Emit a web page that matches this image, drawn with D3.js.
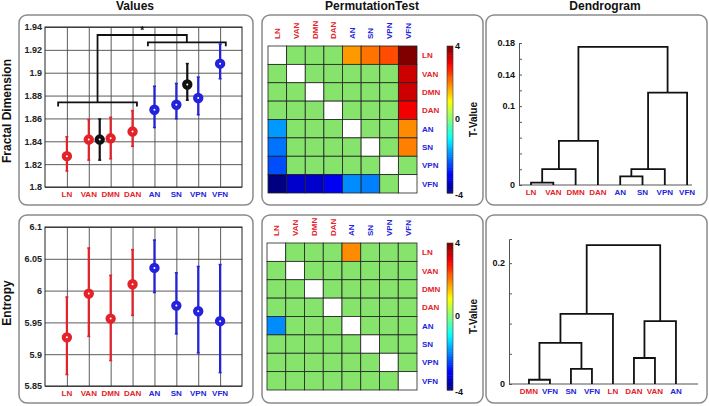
<!DOCTYPE html>
<html><head><meta charset="utf-8">
<script src="https://cdn.jsdelivr.net/npm/d3@7"></script>
<style>
body{margin:0;background:#fff;}
text{font-family:"Liberation Sans",Arial,sans-serif;font-weight:bold;}
</style>
</head><body><svg id="c" width="709" height="406"></svg>
<script>
// ---------------- DATA ----------------
const networks = ["LN","VAN","DMN","DAN","AN","SN","VPN","VFN"];
const redNets = ["LN","VAN","DMN","DAN"];

const fdMean = [1.827,1.8415,1.8426,1.8485,1.8676,1.872,1.8779,1.9079];
const fdLow  = [1.814,1.8235,1.8247,1.8356,1.852,1.8597,1.8632,1.8947];
const fdHigh = [1.844,1.859,1.861,1.8668,1.8882,1.8906,1.8962,1.925];
const fdGroupPos  = [2.5, 6.5];
const fdGroupMean = [1.8415, 1.8897];
const fdGroupLow  = [1.8235, 1.876];
const fdGroupHigh = [1.8595, 1.908];
const fdTicks = [1.8,1.82,1.84,1.86,1.88,1.9,1.92,1.94];
const fdTickLabels = ["1.8","1.82","1.84","1.86","1.88","1.9","1.92","1.94"];
const sigBracketX = [[0.6,4.2],[4.7,8.26]];
const sigBracketY = [1.874,1.9266];
const sigTopY = 1.933;

const enMean = [5.9265,5.9953,5.956,6.010,6.0357,5.9764,5.9675,5.952];
const enLow  = [5.868,5.928,5.890,5.961,5.997,5.932,5.902,5.871];
const enHigh = [5.990,6.067,6.024,6.0645,6.0795,6.028,6.038,6.041];
const enTicks = [5.85,5.9,5.95,6,6.05,6.1];
const enTickLabels = ["5.85","5.9","5.95","6","6.05","6.1"];

const permFD = [
  [null, 0, 0, 0, 1.8, 2.1, 2.4, 4.0],
  [0, null, 0, 0, 0, 0, 0, 3.4],
  [0, 0, null, 0, 0, 0, 0, 3.4],
  [0, 0, 0, null, 0, 0, 0, 3.1],
  [-1.8, 0, 0, 0, null, 0, 0, 1.9],
  [-2.1, 0, 0, 0, 0, null, 0, 2.0],
  [-2.4, 0, 0, 0, 0, 0, null, 0],
  [-4.0, -3.4, -3.4, -3.1, -1.9, -2.0, 0, null]
];
const permEN = [
  [null, 0, 0, 0, 1.9, 0, 0, 0],
  [0, null, 0, 0, 0, 0, 0, 0],
  [0, 0, null, 0, 0, 0, 0, 0],
  [0, 0, 0, null, 0, 0, 0, 0],
  [-1.9, 0, 0, 0, null, 0, 0, 0],
  [0, 0, 0, 0, 0, null, 0, 0],
  [0, 0, 0, 0, 0, 0, null, 0],
  [0, 0, 0, 0, 0, 0, 0, null]
];
const cbTicks = [-4, 0, 4];

const dendTopLeaves = ["LN","VAN","DMN","DAN","AN","SN","VPN","VFN"];
const dendTopMerges = [[0,1,0.003],[8,2,0.020],[9,3,0.056],[4,5,0.011],[11,6,0.020],[12,7,0.117],[10,13,0.175]];
const dendTopTicks = [0,0.02,0.04,0.06,0.08,0.1,0.12,0.14,0.16,0.18];
const dendTopLabels = [0,0.1,0.14,0.18];

const dendBotLeaves = ["DMN","VFN","SN","VFN","LN","DAN","VAN","AN"];
const dendBotMerges = [[0,1,0.007],[2,3,0.025],[8,9,0.068],[10,4,0.116],[5,6,0.043],[12,7,0.104],[11,13,0.23]];
const dendBotTicks = [0,0.05,0.1,0.15,0.2];
const dendBotLabels = [0,0.2];

// ---------------- DRAW ----------------
const RED = "#e3222a", BLUE = "#2323dd";
const netColor = n => redNets.includes(n) ? RED : BLUE;
const svg = d3.select("#c");

// panels
const panels = [[19,15,253,205],[19,215,253,403],[262,15,483,205],[262,215,483,403],[486,15,707,205],[486,215,707,403]];
panels.forEach(p => svg.append("rect").attr("x",p[0]).attr("y",p[1]).attr("width",p[2]-p[0]).attr("height",p[3]-p[1])
  .attr("rx",8).attr("fill","none").attr("stroke","#8a8a8a").attr("stroke-width",1.5));

// titles
[["Values",135],["PermutationTest",372],["Dendrogram",605]].forEach(t =>
  svg.append("text").attr("x",t[1]).attr("y",10).attr("text-anchor","middle").attr("font-size",12).attr("fill","#111").text(t[0]));
svg.append("text").attr("transform","translate(11,111) rotate(-90)").attr("text-anchor","middle").attr("font-size",12).attr("fill","#111").text("Fractal Dimension");
svg.append("text").attr("transform","translate(11,303) rotate(-90)").attr("text-anchor","middle").attr("font-size",12).attr("fill","#111").text("Entropy");

function valuesPlot(y0, y1, domain, ticks, tickLabels, mean, low, high, extra) {
  const x = d3.scaleLinear().domain([0,9]).range([45,242]);
  const y = d3.scaleLinear().domain(domain).range([y1,y0]);
  const g = svg.append("g");
  const gx = g.append("g").attr("transform",`translate(0,${y1})`)
    .call(d3.axisBottom(x).tickValues(d3.range(1,9)).tickSize(-(y1-y0)).tickFormat(""));
  gx.select(".domain").remove();
  gx.selectAll("line").attr("stroke","#4a4a4a").attr("stroke-width",0.9);
  const gy = g.append("g").attr("transform",`translate(45,0)`)
    .call(d3.axisLeft(y).tickValues(ticks).tickSize(-(242-45)).tickFormat((d,i)=>tickLabels[i]).tickPadding(3));
  gy.select(".domain").remove();
  gy.selectAll("line").attr("stroke","#4a4a4a").attr("stroke-width",0.9);
  gy.selectAll("text").attr("font-size",9).attr("fill","#222").attr("font-family","Liberation Sans, Arial").attr("font-weight","bold");
  g.append("rect").attr("x",45).attr("y",y0).attr("width",197).attr("height",y1-y0).attr("fill","none").attr("stroke","#222").attr("stroke-width",1);
  networks.forEach((n,i) => g.append("text").attr("x",x(i+1)).attr("y",y1+10).attr("text-anchor","middle")
    .attr("font-size",8).attr("fill",netColor(n)).text(n));
  function pt(px, m, lo, hi, col) {
    g.append("line").attr("x1",x(px)).attr("x2",x(px)).attr("y1",y(lo)).attr("y2",y(hi)).attr("stroke",col).attr("stroke-width",2.2);
    [lo,hi].forEach(v => g.append("line").attr("x1",x(px)-1.5).attr("x2",x(px)+1.5).attr("y1",y(v)).attr("y2",y(v)).attr("stroke",col).attr("stroke-width",1.5));
    g.append("circle").attr("cx",x(px)).attr("cy",y(m)).attr("r",3.1).attr("fill","#fff").attr("stroke",col).attr("stroke-width",4.2);
  }
  networks.forEach((n,i) => pt(i+1, mean[i], low[i], high[i], netColor(n)));
  if (extra) extra(g, x, y, pt);
}

valuesPlot(27, 187, [1.8,1.94], fdTicks, fdTickLabels, fdMean, fdLow, fdHigh, (g,x,y,pt) => {
  fdGroupPos.forEach((p,i) => pt(p, fdGroupMean[i], fdGroupLow[i], fdGroupHigh[i], "#111"));
  const mids = sigBracketX.map(b => (b[0]+b[1])/2);
  sigBracketX.forEach((b,i) => {
    g.append("path").attr("d", `M${x(b[0])},${y(sigBracketY[i])+4}V${y(sigBracketY[i])}H${x(b[1])}V${y(sigBracketY[i])+4}`)
      .attr("fill","none").attr("stroke","#111").attr("stroke-width",1.8);
  });
  g.append("path").attr("d", `M${x(mids[0])},${y(sigBracketY[0])}V${y(sigTopY)}H${x(mids[1])}V${y(sigBracketY[1])}`)
    .attr("fill","none").attr("stroke","#111").attr("stroke-width",1.8);
  g.append("text").attr("x",x((mids[0]+mids[1])/2)).attr("y",y(sigTopY)-1).attr("text-anchor","middle").attr("font-size",10).attr("fill","#111").text("*");
});
valuesPlot(227, 386, [5.85,6.1], enTicks, enTickLabels, enMean, enLow, enHigh, null);

function jet(v) {
  const t = (v + 4) / 8;
  const c = f => Math.round(255 * Math.max(0, Math.min(1, f)));
  return `rgb(${c(1.5-Math.abs(4*t-3))},${c(1.5-Math.abs(4*t-2))},${c(1.5-Math.abs(4*t-1))})`;
}

function heatmap(x0, x1, y0, y1, mat) {
  const xs = d3.scaleBand().domain(networks).range([x0,x1]);
  const ys = d3.scaleBand().domain(networks).range([y0,y1]);
  const g = svg.append("g");
  mat.forEach((row,i) => row.forEach((v,j) => {
    g.append("rect").attr("x",xs(networks[j])).attr("y",ys(networks[i])).attr("width",xs.bandwidth()).attr("height",ys.bandwidth())
      .attr("fill", v === null ? "#fff" : (v === 0 ? "#86e36b" : jet(v))).attr("stroke","#222").attr("stroke-width",0.8);
  }));
  networks.forEach(n => {
    g.append("text").attr("transform",`translate(${xs(n)+xs.bandwidth()/2+3},${y0-7}) rotate(-90)`).attr("text-anchor","start")
      .attr("font-size",8).attr("fill",netColor(n)).text(n);
    g.append("text").attr("x",x1+5).attr("y",ys(n)+ys.bandwidth()/2+3).attr("font-size",8).attr("fill",netColor(n)).text(n);
  });
  const cb = d3.scaleLinear().domain([-4,4]).range([y1,y0]);
  const steps = d3.range(-4, 4, 0.1);
  steps.forEach(s => g.append("rect").attr("x",447).attr("y",cb(s+0.1)).attr("width",6).attr("height",Math.abs(cb(s)-cb(s+0.1))+0.5).attr("fill",jet(s+0.05)));
  g.append("rect").attr("x",447).attr("y",y0).attr("width",6).attr("height",y1-y0).attr("fill","none").attr("stroke","#333").attr("stroke-width",0.6);
  cbTicks.forEach(t => g.append("text").attr("x",455).attr("y",cb(t)+ (t===4?3:(t===-4?5:2))).attr("font-size",9).attr("fill","#111").text(t));
  g.append("text").attr("transform",`translate(477,${(y0+y1)/2}) rotate(-90)`).attr("text-anchor","middle").attr("font-size",10).attr("fill","#111").text("T-Value");
}
heatmap(268, 417, 46, 193, permFD);
heatmap(267, 417, 243, 390, permEN);

function dendro(xDomain, xRange, yDomain, yRange, leaves, merges, ticks, labels) {
  const x = d3.scaleLinear().domain(xDomain).range(xRange);
  const y = d3.scaleLinear().domain(yDomain).range(yRange);
  const g = svg.append("g");
  const ax = g.append("g").attr("transform",`translate(${xRange[0]},0)`)
    .call(d3.axisRight(y).tickValues(ticks).tickSize(3).tickFormat(""));
  ax.selectAll("line").attr("stroke","#555");
  ax.select(".domain").attr("stroke","#555");
  labels.forEach(l => g.append("text").attr("x",xRange[0]-4).attr("y",y(l)+3).attr("text-anchor","end").attr("font-size",9).attr("fill","#111").text(l));
  g.append("line").attr("x1",xRange[0]).attr("x2",xRange[1]).attr("y1",yRange[0]).attr("y2",yRange[0]).attr("stroke","#555").attr("stroke-width",1);
  const nodes = leaves.map((n,i) => ({x: i+1, h: 0}));
  merges.forEach(m => {
    const a = nodes[m[0]], b = nodes[m[1]];
    g.append("path").attr("d",`M${x(a.x)},${y(a.h)}V${y(m[2])}H${x(b.x)}V${y(b.h)}`)
      .attr("fill","none").attr("stroke","#111").attr("stroke-width",1.8);
    nodes.push({x: (a.x+b.x)/2, h: m[2]});
  });
  leaves.forEach((n,i) => g.append("text").attr("x",x(i+1)).attr("y",yRange[0]+10).attr("text-anchor","middle")
    .attr("font-size",8).attr("fill",netColor(n)).text(n));
}
dendro([0.46,8.22],[519,692],[0,0.18],[185,43],dendTopLeaves,dendTopMerges,dendTopTicks,dendTopLabels);
dendro([0.05,9.05],[509,698],[0,0.24],[384,239],dendBotLeaves,dendBotMerges,dendBotTicks,dendBotLabels);
</script></body></html>
